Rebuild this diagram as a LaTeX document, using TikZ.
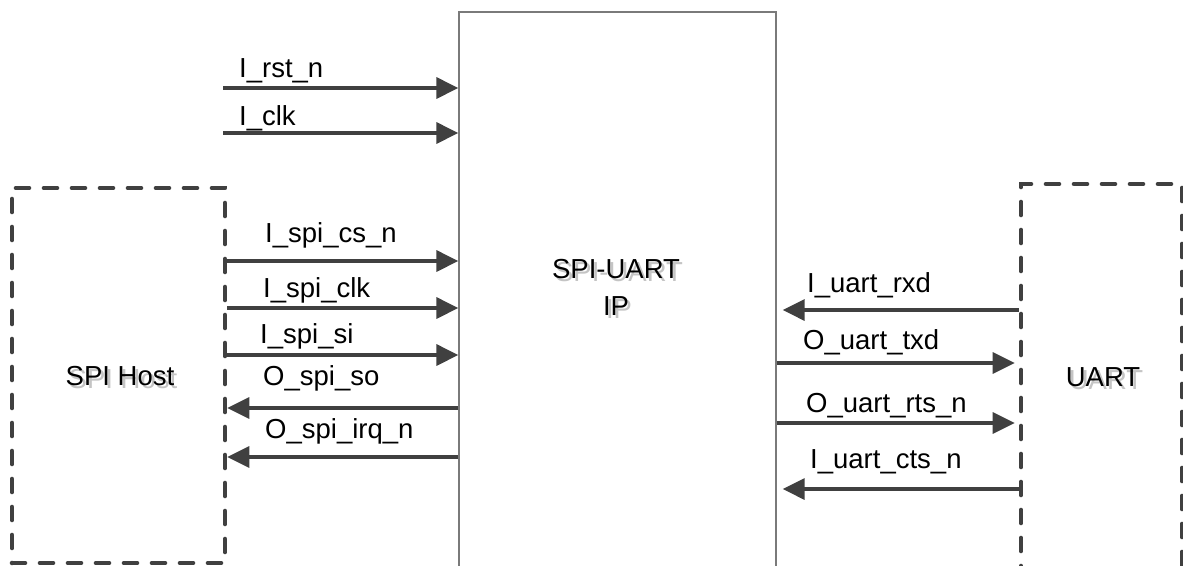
\documentclass[tikz,border=0pt]{standalone}
\usepackage{fontspec}
\setmainfont{Liberation Sans}
\usetikzlibrary{arrows.meta}
\definecolor{dk}{HTML}{404040}
\definecolor{boxgray}{HTML}{7A7A7A}
\definecolor{shadowgray}{HTML}{C4C4C4}
\tikzset{
  sig/.style={draw=dk, line width=3.3pt, -{Triangle[length=22pt,width=21pt]}},
  dashbox/.style={draw=dk, line width=4.6pt, dash pattern=on 13pt off 15pt, line cap=round, rectangle, inner sep=0pt},
  ipbox/.style={draw=boxgray, line width=1.3pt, rectangle, inner sep=0pt},
  lbl/.style={font=\fontsize{27.5}{33}\selectfont, inner sep=0pt, anchor=base west, text=black},
  title/.style={font=\fontsize{27.5}{37}\selectfont, inner sep=0pt, text=black, align=center},
  titlesh/.style={title, text=shadowgray, xshift=3pt, yshift=-3pt},
}
\begin{document}
\begin{tikzpicture}[x=1pt, y=-1pt]
\useasboundingbox (0,0) rectangle (1183,565);
\clip (0,0) rectangle (1183,565);
\fill[white] (0,0) rectangle (1183,565);

% boxes
\node[ipbox, minimum width=317pt, minimum height=620pt] (ip) at (617.5,322) {};
\node[dashbox, minimum width=213pt, minimum height=375pt] (host) at (118.5,375.5) {};
\node[dashbox, minimum width=161pt, minimum height=500pt] (uart) at (1101.5,434) {};

% box titles with shadow
\node[titlesh, anchor=base] at (120,385) {SPI Host};
\node[title, anchor=base] (hostlbl) at (120,385) {SPI Host};
\node[titlesh, anchor=base] at (1103,386) {UART};
\node[title, anchor=base] (uartlbl) at (1103,386) {UART};
\node[titlesh] at (616,287) {SPI-UART\\IP};
\node[title] (iplbl) at (616,287) {SPI-UART\\IP};

% signal rows
\coordinate (rst0) at (223,88);
\coordinate (clk0) at (223,133);
\coordinate (ycs) at (0,261);
\coordinate (ysclk) at (0,308);
\coordinate (ysi) at (0,355);
\coordinate (yso) at (0,408);
\coordinate (yirq) at (0,457);
\coordinate (yrxd) at (0,310);
\coordinate (ytxd) at (0,363);
\coordinate (yrts) at (0,423);
\coordinate (ycts) at (0,489);

% left arrows
\draw[sig] (rst0) -- (ip.west |- rst0);
\draw[sig] (clk0) -- (ip.west |- clk0);
\draw[sig] (host.east |- ycs) -- (ip.west |- ycs);
\draw[sig] (host.east |- ysclk) -- (ip.west |- ysclk);
\draw[sig] (host.east |- ysi) -- (ip.west |- ysi);
\draw[sig] (ip.west |- yso) -- (host.east |- yso);
\draw[sig] (ip.west |- yirq) -- (host.east |- yirq);

% right arrows
\draw[sig] (uart.west |- yrxd) -- ([xshift=6pt]ip.east |- yrxd);
\draw[sig] (ip.east |- ytxd) -- ([xshift=-4pt]uart.west |- ytxd);
\draw[sig] (ip.east |- yrts) -- ([xshift=-4pt]uart.west |- yrts);
\draw[sig] (uart.west |- ycts) -- ([xshift=6pt]ip.east |- ycts);

% signal labels
\node[lbl] (lrst) at (239,77) {I\_rst\_n};
\node[lbl] (lclk) at (239,125) {I\_clk};
\node[lbl] (lcs) at (265,242) {I\_spi\_cs\_n};
\node[lbl] (lsclk) at (263,297) {I\_spi\_clk};
\node[lbl] (lsi) at (260,343) {I\_spi\_si};
\node[lbl] (lso) at (263,385) {O\_spi\_so};
\node[lbl] (lirq) at (265,438) {O\_spi\_irq\_n};
\node[lbl] (lrxd) at (807,292) {I\_uart\_rxd};
\node[lbl] (ltxd) at (803,349) {O\_uart\_txd};
\node[lbl] (lrts) at (806,412) {O\_uart\_rts\_n};
\node[lbl] (lcts) at (810,468) {I\_uart\_cts\_n};
\end{tikzpicture}
\end{document}
